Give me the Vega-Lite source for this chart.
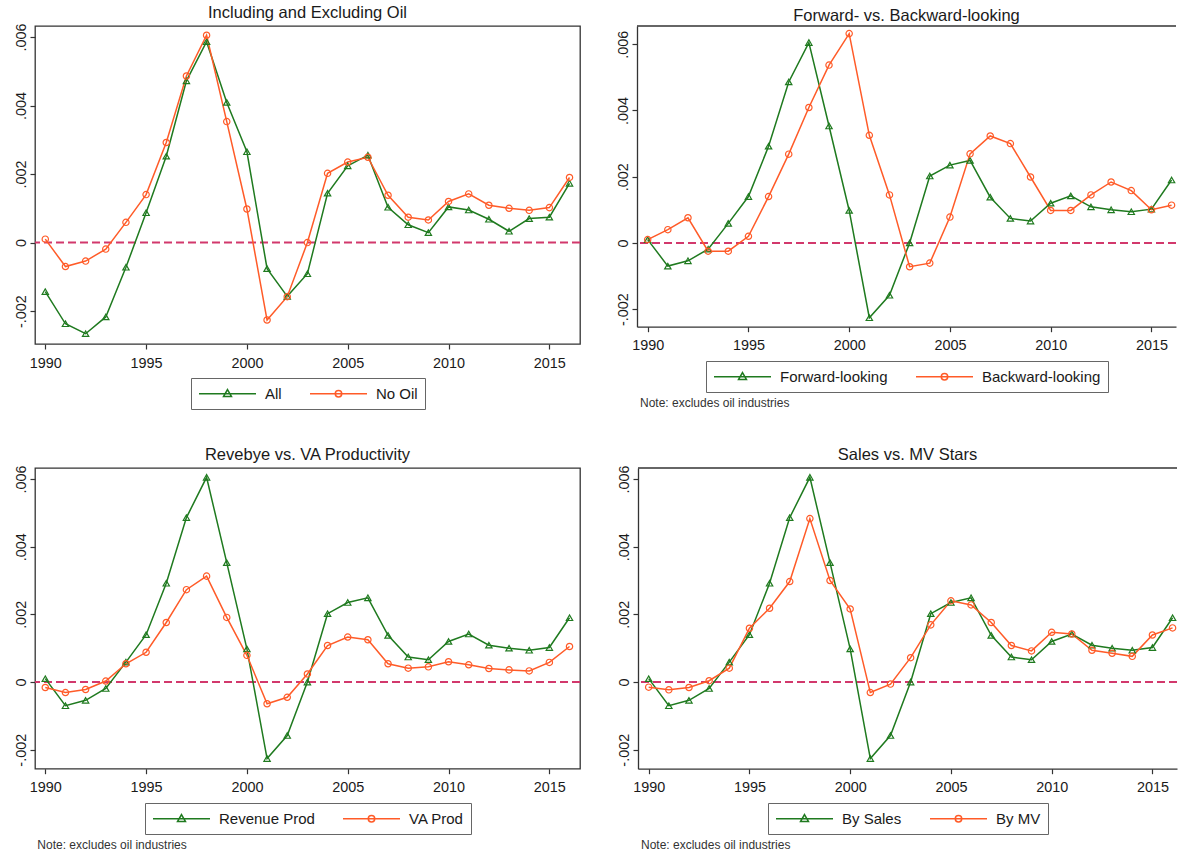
{
  "$schema": "https://vega.github.io/schema/vega-lite/v6.json",
  "padding": {"left": 12, "top": 4, "right": 0, "bottom": 0},
  "config": {
    "view": {"stroke": "#333333", "strokeWidth": 1.3},
    "font": "Liberation Sans",
    "title": {"font": "Liberation Sans", "fontSize": 16.5, "fontWeight": "normal", "color": "#1a1a1a", "offset": 0, "dy": 3, "anchor": "middle"},
    "axis": {"grid": false, "domain": false, "tickColor": "#333333", "tickSize": 5, "tickWidth": 1.2, "labelFont": "Liberation Sans", "labelFontSize": 14.4, "labelColor": "#1a1a1a", "labelFlush": false, "title": null, "domainColor": "#333333", "domainWidth": 1.3},
    "axisX": {"labelPadding": 7},
    "axisY": {"labelAngle": -90, "labelAlign": "center", "labelBaseline": "bottom", "labelPadding": 2},
    "legend": {"layout": {"bottom": {"anchor": "middle"}}, "orient": "bottom", "direction": "horizontal", "title": null, "labelFont": "Liberation Sans", "labelFontSize": 15, "labelColor": "#1a1a1a", "strokeColor": "#666666", "padding": 7, "columnPadding": 25, "offset": 8, "symbolStrokeWidth": 1.5, "labelLimit": 300, "symbolSize": 225, "labelOffset": 50, "symbolOpacity": 1, "symbolFillColor": "transparent"}
  },
  "datasets": {
    "p1": [
      {"year": 1990, "series": "All", "value": -0.00143}, {"year": 1991, "series": "All", "value": -0.00237}, {"year": 1992, "series": "All", "value": -0.00266}, {"year": 1993, "series": "All", "value": -0.00217}, {"year": 1994, "series": "All", "value": -0.00072}, {"year": 1995, "series": "All", "value": 0.00087}, {"year": 1996, "series": "All", "value": 0.00252}, {"year": 1997, "series": "All", "value": 0.00472}, {"year": 1998, "series": "All", "value": 0.00586}, {"year": 1999, "series": "All", "value": 0.00409}, {"year": 2000, "series": "All", "value": 0.00265}, {"year": 2001, "series": "All", "value": -0.00076}, {"year": 2002, "series": "All", "value": -0.00157}, {"year": 2003, "series": "All", "value": -0.00091}, {"year": 2004, "series": "All", "value": 0.00144}, {"year": 2005, "series": "All", "value": 0.00224}, {"year": 2006, "series": "All", "value": 0.00255}, {"year": 2007, "series": "All", "value": 0.00103}, {"year": 2008, "series": "All", "value": 0.00052}, {"year": 2009, "series": "All", "value": 0.00029}, {"year": 2010, "series": "All", "value": 0.00104}, {"year": 2011, "series": "All", "value": 0.00095}, {"year": 2012, "series": "All", "value": 0.00068}, {"year": 2013, "series": "All", "value": 0.00033}, {"year": 2014, "series": "All", "value": 0.0007}, {"year": 2015, "series": "All", "value": 0.00074}, {"year": 2016, "series": "All", "value": 0.00173},
      {"year": 1990, "series": "No Oil", "value": 0.0001}, {"year": 1991, "series": "No Oil", "value": -0.0007}, {"year": 1992, "series": "No Oil", "value": -0.00054}, {"year": 1993, "series": "No Oil", "value": -0.00019}, {"year": 1994, "series": "No Oil", "value": 0.00059}, {"year": 1995, "series": "No Oil", "value": 0.0014}, {"year": 1996, "series": "No Oil", "value": 0.00292}, {"year": 1997, "series": "No Oil", "value": 0.00486}, {"year": 1998, "series": "No Oil", "value": 0.00605}, {"year": 1999, "series": "No Oil", "value": 0.00353}, {"year": 2000, "series": "No Oil", "value": 0.00098}, {"year": 2001, "series": "No Oil", "value": -0.00226}, {"year": 2002, "series": "No Oil", "value": -0.00158}, {"year": 2003, "series": "No Oil", "value": 0.0}, {"year": 2004, "series": "No Oil", "value": 0.00202}, {"year": 2005, "series": "No Oil", "value": 0.00235}, {"year": 2006, "series": "No Oil", "value": 0.00249}, {"year": 2007, "series": "No Oil", "value": 0.00138}, {"year": 2008, "series": "No Oil", "value": 0.00074}, {"year": 2009, "series": "No Oil", "value": 0.00066}, {"year": 2010, "series": "No Oil", "value": 0.0012}, {"year": 2011, "series": "No Oil", "value": 0.00142}, {"year": 2012, "series": "No Oil", "value": 0.00109}, {"year": 2013, "series": "No Oil", "value": 0.001}, {"year": 2014, "series": "No Oil", "value": 0.00094}, {"year": 2015, "series": "No Oil", "value": 0.00102}, {"year": 2016, "series": "No Oil", "value": 0.0019}
    ],
    "p2": [
      {"year": 1990, "series": "Forward-looking", "value": 0.0001}, {"year": 1991, "series": "Forward-looking", "value": -0.0007}, {"year": 1992, "series": "Forward-looking", "value": -0.00054}, {"year": 1993, "series": "Forward-looking", "value": -0.00019}, {"year": 1994, "series": "Forward-looking", "value": 0.00059}, {"year": 1995, "series": "Forward-looking", "value": 0.0014}, {"year": 1996, "series": "Forward-looking", "value": 0.00292}, {"year": 1997, "series": "Forward-looking", "value": 0.00486}, {"year": 1998, "series": "Forward-looking", "value": 0.00605}, {"year": 1999, "series": "Forward-looking", "value": 0.00353}, {"year": 2000, "series": "Forward-looking", "value": 0.00098}, {"year": 2001, "series": "Forward-looking", "value": -0.00226}, {"year": 2002, "series": "Forward-looking", "value": -0.00158}, {"year": 2003, "series": "Forward-looking", "value": 0.0}, {"year": 2004, "series": "Forward-looking", "value": 0.00202}, {"year": 2005, "series": "Forward-looking", "value": 0.00235}, {"year": 2006, "series": "Forward-looking", "value": 0.00249}, {"year": 2007, "series": "Forward-looking", "value": 0.00138}, {"year": 2008, "series": "Forward-looking", "value": 0.00074}, {"year": 2009, "series": "Forward-looking", "value": 0.00066}, {"year": 2010, "series": "Forward-looking", "value": 0.0012}, {"year": 2011, "series": "Forward-looking", "value": 0.00142}, {"year": 2012, "series": "Forward-looking", "value": 0.00109}, {"year": 2013, "series": "Forward-looking", "value": 0.001}, {"year": 2014, "series": "Forward-looking", "value": 0.00094}, {"year": 2015, "series": "Forward-looking", "value": 0.00102}, {"year": 2016, "series": "Forward-looking", "value": 0.0019},
      {"year": 1990, "series": "Backward-looking", "value": 0.0001}, {"year": 1991, "series": "Backward-looking", "value": 0.0004}, {"year": 1992, "series": "Backward-looking", "value": 0.00076}, {"year": 1993, "series": "Backward-looking", "value": -0.00025}, {"year": 1994, "series": "Backward-looking", "value": -0.00025}, {"year": 1995, "series": "Backward-looking", "value": 0.0002}, {"year": 1996, "series": "Backward-looking", "value": 0.0014}, {"year": 1997, "series": "Backward-looking", "value": 0.00268}, {"year": 1998, "series": "Backward-looking", "value": 0.00409}, {"year": 1999, "series": "Backward-looking", "value": 0.00537}, {"year": 2000, "series": "Backward-looking", "value": 0.00632}, {"year": 2001, "series": "Backward-looking", "value": 0.00325}, {"year": 2002, "series": "Backward-looking", "value": 0.00145}, {"year": 2003, "series": "Backward-looking", "value": -0.00072}, {"year": 2004, "series": "Backward-looking", "value": -0.00061}, {"year": 2005, "series": "Backward-looking", "value": 0.00078}, {"year": 2006, "series": "Backward-looking", "value": 0.00269}, {"year": 2007, "series": "Backward-looking", "value": 0.00323}, {"year": 2008, "series": "Backward-looking", "value": 0.003}, {"year": 2009, "series": "Backward-looking", "value": 0.00199}, {"year": 2010, "series": "Backward-looking", "value": 0.00098}, {"year": 2011, "series": "Backward-looking", "value": 0.00098}, {"year": 2012, "series": "Backward-looking", "value": 0.00145}, {"year": 2013, "series": "Backward-looking", "value": 0.00184}, {"year": 2014, "series": "Backward-looking", "value": 0.00158}, {"year": 2015, "series": "Backward-looking", "value": 0.001}, {"year": 2016, "series": "Backward-looking", "value": 0.00114}
    ],
    "p3": [
      {"year": 1990, "series": "Revenue Prod", "value": 0.0001}, {"year": 1991, "series": "Revenue Prod", "value": -0.0007}, {"year": 1992, "series": "Revenue Prod", "value": -0.00054}, {"year": 1993, "series": "Revenue Prod", "value": -0.00019}, {"year": 1994, "series": "Revenue Prod", "value": 0.00059}, {"year": 1995, "series": "Revenue Prod", "value": 0.0014}, {"year": 1996, "series": "Revenue Prod", "value": 0.00292}, {"year": 1997, "series": "Revenue Prod", "value": 0.00486}, {"year": 1998, "series": "Revenue Prod", "value": 0.00605}, {"year": 1999, "series": "Revenue Prod", "value": 0.00353}, {"year": 2000, "series": "Revenue Prod", "value": 0.00098}, {"year": 2001, "series": "Revenue Prod", "value": -0.00226}, {"year": 2002, "series": "Revenue Prod", "value": -0.00158}, {"year": 2003, "series": "Revenue Prod", "value": 0.0}, {"year": 2004, "series": "Revenue Prod", "value": 0.00202}, {"year": 2005, "series": "Revenue Prod", "value": 0.00235}, {"year": 2006, "series": "Revenue Prod", "value": 0.00249}, {"year": 2007, "series": "Revenue Prod", "value": 0.00138}, {"year": 2008, "series": "Revenue Prod", "value": 0.00074}, {"year": 2009, "series": "Revenue Prod", "value": 0.00066}, {"year": 2010, "series": "Revenue Prod", "value": 0.0012}, {"year": 2011, "series": "Revenue Prod", "value": 0.00142}, {"year": 2012, "series": "Revenue Prod", "value": 0.00109}, {"year": 2013, "series": "Revenue Prod", "value": 0.001}, {"year": 2014, "series": "Revenue Prod", "value": 0.00094}, {"year": 2015, "series": "Revenue Prod", "value": 0.00102}, {"year": 2016, "series": "Revenue Prod", "value": 0.0019},
      {"year": 1990, "series": "VA Prod", "value": -0.00016}, {"year": 1991, "series": "VA Prod", "value": -0.00031}, {"year": 1992, "series": "VA Prod", "value": -0.00022}, {"year": 1993, "series": "VA Prod", "value": 0.00003}, {"year": 1994, "series": "VA Prod", "value": 0.00054}, {"year": 1995, "series": "VA Prod", "value": 0.00088}, {"year": 1996, "series": "VA Prod", "value": 0.00176}, {"year": 1997, "series": "VA Prod", "value": 0.00273}, {"year": 1998, "series": "VA Prod", "value": 0.00313}, {"year": 1999, "series": "VA Prod", "value": 0.00191}, {"year": 2000, "series": "VA Prod", "value": 0.00079}, {"year": 2001, "series": "VA Prod", "value": -0.00064}, {"year": 2002, "series": "VA Prod", "value": -0.00045}, {"year": 2003, "series": "VA Prod", "value": 0.00024}, {"year": 2004, "series": "VA Prod", "value": 0.00108}, {"year": 2005, "series": "VA Prod", "value": 0.00133}, {"year": 2006, "series": "VA Prod", "value": 0.00125}, {"year": 2007, "series": "VA Prod", "value": 0.00054}, {"year": 2008, "series": "VA Prod", "value": 0.00041}, {"year": 2009, "series": "VA Prod", "value": 0.00045}, {"year": 2010, "series": "VA Prod", "value": 0.0006}, {"year": 2011, "series": "VA Prod", "value": 0.00051}, {"year": 2012, "series": "VA Prod", "value": 0.0004}, {"year": 2013, "series": "VA Prod", "value": 0.00036}, {"year": 2014, "series": "VA Prod", "value": 0.00033}, {"year": 2015, "series": "VA Prod", "value": 0.00058}, {"year": 2016, "series": "VA Prod", "value": 0.00105}
    ],
    "p4": [
      {"year": 1990, "series": "By Sales", "value": 0.0001}, {"year": 1991, "series": "By Sales", "value": -0.0007}, {"year": 1992, "series": "By Sales", "value": -0.00054}, {"year": 1993, "series": "By Sales", "value": -0.00019}, {"year": 1994, "series": "By Sales", "value": 0.00059}, {"year": 1995, "series": "By Sales", "value": 0.0014}, {"year": 1996, "series": "By Sales", "value": 0.00292}, {"year": 1997, "series": "By Sales", "value": 0.00486}, {"year": 1998, "series": "By Sales", "value": 0.00605}, {"year": 1999, "series": "By Sales", "value": 0.00353}, {"year": 2000, "series": "By Sales", "value": 0.00098}, {"year": 2001, "series": "By Sales", "value": -0.00226}, {"year": 2002, "series": "By Sales", "value": -0.00158}, {"year": 2003, "series": "By Sales", "value": 0.0}, {"year": 2004, "series": "By Sales", "value": 0.00202}, {"year": 2005, "series": "By Sales", "value": 0.00235}, {"year": 2006, "series": "By Sales", "value": 0.00249}, {"year": 2007, "series": "By Sales", "value": 0.00138}, {"year": 2008, "series": "By Sales", "value": 0.00074}, {"year": 2009, "series": "By Sales", "value": 0.00066}, {"year": 2010, "series": "By Sales", "value": 0.0012}, {"year": 2011, "series": "By Sales", "value": 0.00142}, {"year": 2012, "series": "By Sales", "value": 0.00109}, {"year": 2013, "series": "By Sales", "value": 0.001}, {"year": 2014, "series": "By Sales", "value": 0.00094}, {"year": 2015, "series": "By Sales", "value": 0.00102}, {"year": 2016, "series": "By Sales", "value": 0.0019},
      {"year": 1990, "series": "By MV", "value": -0.00015}, {"year": 1991, "series": "By MV", "value": -0.00023}, {"year": 1992, "series": "By MV", "value": -0.00016}, {"year": 1993, "series": "By MV", "value": 0.00004}, {"year": 1994, "series": "By MV", "value": 0.00041}, {"year": 1995, "series": "By MV", "value": 0.00159}, {"year": 1996, "series": "By MV", "value": 0.00218}, {"year": 1997, "series": "By MV", "value": 0.00297}, {"year": 1998, "series": "By MV", "value": 0.00483}, {"year": 1999, "series": "By MV", "value": 0.003}, {"year": 2000, "series": "By MV", "value": 0.00216}, {"year": 2001, "series": "By MV", "value": -0.00031}, {"year": 2002, "series": "By MV", "value": -0.00006}, {"year": 2003, "series": "By MV", "value": 0.00072}, {"year": 2004, "series": "By MV", "value": 0.00169}, {"year": 2005, "series": "By MV", "value": 0.0024}, {"year": 2006, "series": "By MV", "value": 0.00228}, {"year": 2007, "series": "By MV", "value": 0.00176}, {"year": 2008, "series": "By MV", "value": 0.00108}, {"year": 2009, "series": "By MV", "value": 0.00092}, {"year": 2010, "series": "By MV", "value": 0.00147}, {"year": 2011, "series": "By MV", "value": 0.00142}, {"year": 2012, "series": "By MV", "value": 0.00094}, {"year": 2013, "series": "By MV", "value": 0.00085}, {"year": 2014, "series": "By MV", "value": 0.00076}, {"year": 2015, "series": "By MV", "value": 0.00139}, {"year": 2016, "series": "By MV", "value": 0.0016}
    ]
  },
  "resolve": {"scale": {"color": "independent", "shape": "independent"}, "legend": {"color": "independent", "shape": "independent"}},
  "spacing": 35,
  "vconcat": [
    {
      "hconcat": [
        {
          "title": {"text": "Including and Excluding Oil"},
          "width": 545, "height": 318,
          "data": {"name": "p1"},
          "layer": [
            {"data": {"values": [{}]}, "mark": {"type": "rule", "color": "#d2386c", "strokeWidth": 2, "strokeDash": [8, 4]}, "encoding": {"y": {"datum": 0, "type": "quantitative"}}},
            {"mark": {"type": "line", "strokeWidth": 1.5},
             "encoding": {
               "x": {"field": "year", "type": "quantitative", "scale": {"domain": [1989.49, 2016.52], "nice": false, "zero": false}, "axis": {"values": [1990, 1995, 2000, 2005, 2010, 2015], "format": "d"}},
               "y": {"field": "value", "type": "quantitative", "scale": {"domain": [-0.00296, 0.00632], "nice": false, "zero": false}, "axis": {"values": [-0.002, 0, 0.002, 0.004, 0.006], "labelExpr": "datum.value === 0 ? '0' : (datum.value < 0 ? '-.' : '.') + substring(format(abs(datum.value), '.3f'), 2)"}},
               "color": {"field": "series", "type": "nominal", "scale": {"domain": ["All", "No Oil"], "range": ["#1f7a1f", "#ff5b28"]}}
             }},
            {"mark": {"type": "point", "filled": false, "size": 40, "strokeWidth": 1.2, "opacity": 1},
             "encoding": {
               "x": {"field": "year", "type": "quantitative"},
               "y": {"field": "value", "type": "quantitative"},
               "color": {"field": "series", "type": "nominal"},
               "shape": {"condition": {"test": "datum.series === 'All'", "value": "triangle-up"}, "value": "circle"}
             }},
            {"mark": {"type": "point", "filled": false, "size": 1, "opacity": 0},
             "encoding": {
               "x": {"field": "year", "type": "quantitative"},
               "y": {"field": "value", "type": "quantitative"},
               "color": {"field": "series", "type": "nominal"},
               "shape": {"field": "series", "type": "nominal", "scale": {"domain": ["All", "No Oil"], "range": ["M-1,0L6.6,0M2.8,-0.56L3.33,0.37L2.27,0.37Z", "M-1,0L6.6,0M3.23,0A0.43,0.43,0,1,1,2.37,0A0.43,0.43,0,1,1,3.23,0Z"]}}
             }}
          ]
        },
        {
          "vconcat": [
            {
              "title": {"text": "Forward- vs. Backward-looking"},
              "width": 539, "height": 300.7,
              "view": {"stroke": null},
              "data": {"name": "p2"},
              "layer": [
                {"data": {"values": [{}]}, "mark": {"type": "rule", "color": "#333333", "strokeWidth": 1.3}, "encoding": {"y": {"datum": 0.00655, "type": "quantitative"}}},
                {"data": {"values": [{}]}, "mark": {"type": "rule", "color": "#d2386c", "strokeWidth": 2, "strokeDash": [8, 4]}, "encoding": {"y": {"datum": 0, "type": "quantitative"}}},
                {"mark": {"type": "line", "strokeWidth": 1.5},
                 "encoding": {
                   "x": {"field": "year", "type": "quantitative", "scale": {"domain": [1989.47, 2016.22], "nice": false, "zero": false}, "axis": {"values": [1990, 1995, 2000, 2005, 2010, 2015], "format": "d", "domain": true}},
                   "y": {"field": "value", "type": "quantitative", "scale": {"domain": [-0.00253, 0.00655], "nice": false, "zero": false}, "axis": {"values": [-0.002, 0, 0.002, 0.004, 0.006], "domain": true, "labelExpr": "datum.value === 0 ? '0' : (datum.value < 0 ? '-.' : '.') + substring(format(abs(datum.value), '.3f'), 2)"}},
                   "color": {"field": "series", "type": "nominal", "scale": {"domain": ["Forward-looking", "Backward-looking"], "range": ["#1f7a1f", "#ff5b28"]}}
                 }},
                {"mark": {"type": "point", "filled": false, "size": 40, "strokeWidth": 1.2, "opacity": 1},
                 "encoding": {
                   "x": {"field": "year", "type": "quantitative"},
                   "y": {"field": "value", "type": "quantitative"},
                   "color": {"field": "series", "type": "nominal"},
                   "shape": {"condition": {"test": "datum.series === 'Forward-looking'", "value": "triangle-up"}, "value": "circle"}
                 }},
                {"mark": {"type": "point", "filled": false, "size": 1, "opacity": 0},
                 "encoding": {
                   "x": {"field": "year", "type": "quantitative"},
                   "y": {"field": "value", "type": "quantitative"},
                   "color": {"field": "series", "type": "nominal"},
                   "shape": {"field": "series", "type": "nominal", "scale": {"domain": ["Forward-looking", "Backward-looking"], "range": ["M-1,0L6.6,0M2.8,-0.56L3.33,0.37L2.27,0.37Z", "M-1,0L6.6,0M3.23,0A0.43,0.43,0,1,1,2.37,0A0.43,0.43,0,1,1,3.23,0Z"]}}
                 }}
              ]
            }
          ],
          "resolve": {"scale": {"color": "independent", "shape": "independent"}, "legend": {"color": "independent", "shape": "independent"}},
          "title": {"text": "Note: excludes oil industries", "orient": "bottom", "anchor": "start", "frame": "bounds", "fontSize": 12, "color": "#333333", "offset": 8, "dx": 25, "dy": -3}
        }
      ],
      "spacing": 33,
      "resolve": {"scale": {"color": "independent", "shape": "independent"}, "legend": {"color": "independent", "shape": "independent"}}
    },
    {
      "hconcat": [
        {
          "vconcat": [
            {
              "title": {"text": "Revebye vs. VA Productivity"},
              "width": 545, "height": 300.7,
              "data": {"name": "p3"},
              "layer": [
                {"data": {"values": [{}]}, "mark": {"type": "rule", "color": "#d2386c", "strokeWidth": 2, "strokeDash": [8, 4]}, "encoding": {"y": {"datum": 0, "type": "quantitative"}}},
                {"mark": {"type": "line", "strokeWidth": 1.5},
                 "encoding": {
                   "x": {"field": "year", "type": "quantitative", "scale": {"domain": [1989.49, 2016.52], "nice": false, "zero": false}, "axis": {"values": [1990, 1995, 2000, 2005, 2010, 2015], "format": "d"}},
                   "y": {"field": "value", "type": "quantitative", "scale": {"domain": [-0.00256, 0.006325], "nice": false, "zero": false}, "axis": {"values": [-0.002, 0, 0.002, 0.004, 0.006], "labelExpr": "datum.value === 0 ? '0' : (datum.value < 0 ? '-.' : '.') + substring(format(abs(datum.value), '.3f'), 2)"}},
                   "color": {"field": "series", "type": "nominal", "scale": {"domain": ["Revenue Prod", "VA Prod"], "range": ["#1f7a1f", "#ff5b28"]}}
                 }},
                {"mark": {"type": "point", "filled": false, "size": 40, "strokeWidth": 1.2, "opacity": 1},
                 "encoding": {
                   "x": {"field": "year", "type": "quantitative"},
                   "y": {"field": "value", "type": "quantitative"},
                   "color": {"field": "series", "type": "nominal"},
                   "shape": {"condition": {"test": "datum.series === 'Revenue Prod'", "value": "triangle-up"}, "value": "circle"}
                 }},
                {"mark": {"type": "point", "filled": false, "size": 1, "opacity": 0},
                 "encoding": {
                   "x": {"field": "year", "type": "quantitative"},
                   "y": {"field": "value", "type": "quantitative"},
                   "color": {"field": "series", "type": "nominal"},
                   "shape": {"field": "series", "type": "nominal", "scale": {"domain": ["Revenue Prod", "VA Prod"], "range": ["M-1,0L6.6,0M2.8,-0.56L3.33,0.37L2.27,0.37Z", "M-1,0L6.6,0M3.23,0A0.43,0.43,0,1,1,2.37,0A0.43,0.43,0,1,1,3.23,0Z"]}}
                 }}
              ]
            }
          ],
          "resolve": {"scale": {"color": "independent", "shape": "independent"}, "legend": {"color": "independent", "shape": "independent"}},
          "title": {"text": "Note: excludes oil industries", "orient": "bottom", "anchor": "start", "frame": "bounds", "fontSize": 12, "color": "#333333", "offset": 8, "dx": 25, "dy": -3}
        },
        {
          "vconcat": [
            {
              "title": {"text": "Sales vs. MV Stars"},
              "width": 539, "height": 300.7,
              "view": {"stroke": null},
              "data": {"name": "p4"},
              "layer": [
                {"data": {"values": [{}]}, "mark": {"type": "rule", "color": "#333333", "strokeWidth": 1.3}, "encoding": {"y": {"datum": 0.006325, "type": "quantitative"}}},
                {"data": {"values": [{}]}, "mark": {"type": "rule", "color": "#d2386c", "strokeWidth": 2, "strokeDash": [8, 4]}, "encoding": {"y": {"datum": 0, "type": "quantitative"}}},
                {"mark": {"type": "line", "strokeWidth": 1.5},
                 "encoding": {
                   "x": {"field": "year", "type": "quantitative", "scale": {"domain": [1989.47, 2016.22], "nice": false, "zero": false}, "axis": {"values": [1990, 1995, 2000, 2005, 2010, 2015], "format": "d", "domain": true}},
                   "y": {"field": "value", "type": "quantitative", "scale": {"domain": [-0.00256, 0.006325], "nice": false, "zero": false}, "axis": {"values": [-0.002, 0, 0.002, 0.004, 0.006], "domain": true, "labelExpr": "datum.value === 0 ? '0' : (datum.value < 0 ? '-.' : '.') + substring(format(abs(datum.value), '.3f'), 2)"}},
                   "color": {"field": "series", "type": "nominal", "scale": {"domain": ["By Sales", "By MV"], "range": ["#1f7a1f", "#ff5b28"]}}
                 }},
                {"mark": {"type": "point", "filled": false, "size": 40, "strokeWidth": 1.2, "opacity": 1},
                 "encoding": {
                   "x": {"field": "year", "type": "quantitative"},
                   "y": {"field": "value", "type": "quantitative"},
                   "color": {"field": "series", "type": "nominal"},
                   "shape": {"condition": {"test": "datum.series === 'By Sales'", "value": "triangle-up"}, "value": "circle"}
                 }},
                {"mark": {"type": "point", "filled": false, "size": 1, "opacity": 0},
                 "encoding": {
                   "x": {"field": "year", "type": "quantitative"},
                   "y": {"field": "value", "type": "quantitative"},
                   "color": {"field": "series", "type": "nominal"},
                   "shape": {"field": "series", "type": "nominal", "scale": {"domain": ["By Sales", "By MV"], "range": ["M-1,0L6.6,0M2.8,-0.56L3.33,0.37L2.27,0.37Z", "M-1,0L6.6,0M3.23,0A0.43,0.43,0,1,1,2.37,0A0.43,0.43,0,1,1,3.23,0Z"]}}
                 }}
              ]
            }
          ],
          "resolve": {"scale": {"color": "independent", "shape": "independent"}, "legend": {"color": "independent", "shape": "independent"}},
          "title": {"text": "Note: excludes oil industries", "orient": "bottom", "anchor": "start", "frame": "bounds", "fontSize": 12, "color": "#333333", "offset": 8, "dx": 25, "dy": -3}
        }
      ],
      "spacing": 33,
      "resolve": {"scale": {"color": "independent", "shape": "independent"}, "legend": {"color": "independent", "shape": "independent"}}
    }
  ]
}
